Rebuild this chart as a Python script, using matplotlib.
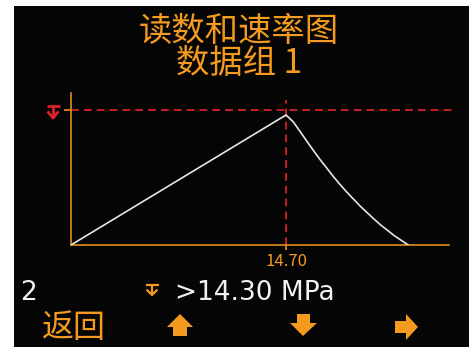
import matplotlib
matplotlib.use('Agg')
import matplotlib.pyplot as plt
from matplotlib.patches import Rectangle, Polygon
from matplotlib.lines import Line2D

W, H = 472, 347

# readings: pressure (MPa) against time
rise_x = [0.0, 14.29, 14.70]
rise_y = [0.0, 13.39, 13.77]
fall_x = [14.70, 15.20, 15.66, 16.11, 16.57, 17.02, 17.48, 17.93, 18.39,
          18.85, 19.76, 20.67, 21.13, 22.04, 22.49, 23.06]
fall_y = [13.77, 13.03, 12.02, 11.02, 10.01, 9.06, 8.16, 7.26, 6.41,
          5.61, 4.13, 2.81, 2.17, 1.06, 0.58, 0.0]
limit_value = 14.30
peak_time = 14.70
peak_label = '14.70'
x_max = 25.84
y_max = 16.1
title_lines = ['读数和速率图', '数据组 1']
group_no = '2'
limit_text = '>14.30 MPa'
back_text = '返回'

ORANGE = '#f39a1f'
RED = '#dc2228'
WHITE = '#f2f2f2'
LINE = '#e6e6e6'

plt.rcParams['font.family'] = ['Noto Sans CJK SC', 'DejaVu Sans']


def fx(x):
    return x / W


def fy(y):
    return 1 - y / H


def figLine(fig, xs, ys, color, lw):
    fig.add_artist(Line2D([fx(v) for v in xs], [fy(v) for v in ys],
                          color=color, lw=lw, solid_capstyle='butt',
                          transform=fig.transFigure))


def figPoly(fig, pts, color):
    fig.add_artist(Polygon([(fx(a), fy(b)) for a, b in pts], closed=True,
                           facecolor=color, edgecolor='none',
                           transform=fig.transFigure))


def drawLimitIcon(fig, cx, top, w, h, color, lw):
    figLine(fig, [cx - w / 2, cx + w / 2], [top, top], color, lw)
    figLine(fig, [cx, cx], [top, top + h], color, lw)
    figLine(fig, [cx - w * 0.42, cx, cx + w * 0.42],
            [top + h * 0.45, top + h, top + h * 0.45], color, lw)


fig = plt.figure(figsize=(W / 100, H / 100), dpi=100, facecolor='white')
fig.add_artist(Rectangle((fx(14), 0), fx(469) - fx(14), fy(6),
                         transform=fig.transFigure, facecolor='#050505',
                         edgecolor='none', zorder=0))

ax = fig.add_axes([fx(71), fy(245), (449 - 71) / W, (245 - 93) / H])
ax.set_facecolor('none')
ax.set_xlim(0, x_max)
ax.set_ylim(0, y_max)
for side in ['top', 'right']:
    ax.spines[side].set_visible(False)
for side in ['left', 'bottom']:
    ax.spines[side].set_color(ORANGE)
    ax.spines[side].set_linewidth(1.1)

ax.plot(rise_x + fall_x, rise_y + fall_y, color=LINE, lw=1.2, zorder=3)

dash = (0, (4.5, 2.9))
ax.plot([0, x_max * 1.008], [limit_value, limit_value], color=RED, lw=1.25,
        ls=dash, clip_on=False, zorder=2)
ax.plot([peak_time, peak_time], [0, 15.36], color=RED, lw=1.25, ls=dash,
        clip_on=False, zorder=2)

ax.set_yticks([limit_value])
ax.set_yticklabels([])
ax.tick_params(axis='y', length=5, width=1.1, color=ORANGE)
ax.set_xticks([peak_time])
ax.set_xticklabels([peak_label])
ax.tick_params(axis='x', length=3.6, width=1.1, color=ORANGE,
               labelcolor=ORANGE, labelsize=12, pad=2.5)

fig.text(fx(239), fy(31), title_lines[0], color=ORANGE, fontsize=24,
         ha='center', va='center')
fig.text(fx(239), fy(64), title_lines[1], color=ORANGE, fontsize=24,
         ha='center', va='center')

drawLimitIcon(fig, 53, 106, 13, 12, RED, 2.0)

fig.text(fx(20), fy(293), group_no, color=WHITE, fontsize=19,
         family='DejaVu Sans', ha='left', va='center')
drawLimitIcon(fig, 152, 285, 13, 10, ORANGE, 1.6)
fig.text(fx(175), fy(293), limit_text, color=WHITE, fontsize=19,
         family='DejaVu Sans', ha='left', va='center')

fig.text(fx(74), fy(328), back_text, color=ORANGE, fontsize=23,
         ha='center', va='center')

# softkey arrows
figPoly(fig, [(167, 327), (180, 314), (193, 327), (187, 327), (187, 336),
              (173, 336), (173, 327)], ORANGE)
figPoly(fig, [(297, 314), (310, 314), (310, 323), (317, 323), (303, 336),
              (290, 323), (297, 323)], ORANGE)
figPoly(fig, [(395, 321), (406, 321), (406, 314), (418, 327), (406, 340),
              (406, 333), (395, 333)], ORANGE)

fig.savefig('out.png', dpi=100, facecolor='white')
